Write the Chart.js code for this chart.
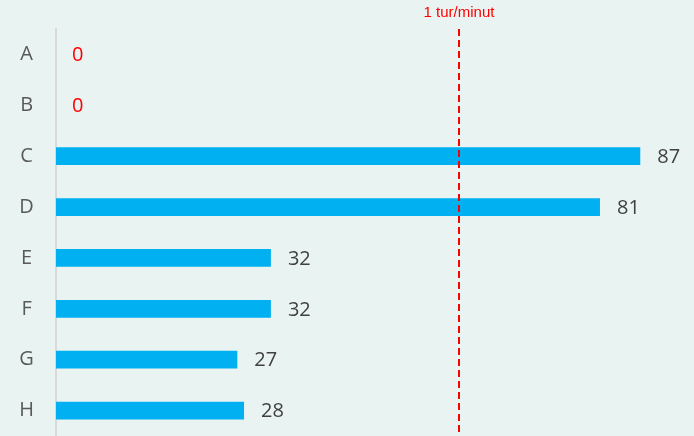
<!DOCTYPE html>
<html>
<head>
<meta charset="utf-8">
<script src="https://cdn.jsdelivr.net/npm/chart.js@4"></script>
<style>
  html, body { margin: 0; padding: 0; background: #E9F4F2; }
  #wrap { width: 694px; height: 436px; position: relative; }
</style>
</head>
<body>
<div id="wrap"><canvas id="myChart"></canvas></div>
<script>
const categories = ['A', 'B', 'C', 'D', 'E', 'F', 'G', 'H'];
const values = [0, 0, 87, 81, 32, 32, 27, 28];
const refValue = 60;
const refLabel = '1 tur/minut';

// etiketler barın sonunda, sıfırlar kırmızı
const valueLabels = {
    id: 'valueLabels',
    afterDatasetsDraw(chart) {
        const ctx = chart.ctx;
        const meta = chart.getDatasetMeta(0);
        ctx.save();
        ctx.font = '20px "Open Sans"';
        ctx.textBaseline = 'middle';
        ctx.textAlign = 'left';
        meta.data.forEach((bar, i) => {
            const v = values[i];
            ctx.fillStyle = v === 0 ? '#FF0000' : '#404040';
            ctx.fillText(String(v), bar.x + (v === 0 ? 16 : 17), bar.y + 1);
        });
        ctx.restore();
    }
};

// kesikli referans çizgisi
const refLine = {
    id: 'refLine',
    afterDatasetsDraw(chart) {
        const ctx = chart.ctx;
        const x = Math.round(chart.scales.x.getPixelForValue(refValue));
        const area = chart.chartArea;
        ctx.save();
        ctx.strokeStyle = '#FF0000';
        ctx.lineWidth = 2;
        ctx.setLineDash([7, 4]);
        ctx.beginPath();
        ctx.moveTo(x, area.top);
        ctx.lineTo(x, chart.height);
        ctx.stroke();
        ctx.setLineDash([]);
        ctx.fillStyle = '#FF0000';
        ctx.font = '15px "Liberation Sans"';
        ctx.textAlign = 'center';
        ctx.textBaseline = 'middle';
        ctx.fillText(refLabel, x, 13);
        ctx.restore();
    }
};

const ctx = document.getElementById('myChart').getContext('2d');
new Chart(ctx, {
    type: 'bar',
    data: {
        labels: categories,
        datasets: [{
            data: values,
            backgroundColor: '#00B0F0',
            borderWidth: 0,
            barPercentage: 0.35,
            categoryPercentage: 1
        }]
    },
    options: {
        indexAxis: 'y',
        responsive: true,
        maintainAspectRatio: false,
        animation: false,
        layout: { padding: { top: 29, right: 0, bottom: 0, left: 0 } },
        plugins: {
            legend: { display: false },
            tooltip: { enabled: false }
        },
        scales: {
            x: {
                display: false,
                min: 0,
                max: 95
            },
            y: {
                afterFit(scale) {
                    scale.width = 56;
                    scale.paddingTop = 0;
                    scale.paddingBottom = 0;
                },
                grid: { display: false, drawTicks: false },
                border: { color: '#D9D9D9', width: 2 },
                ticks: {
                    crossAlign: 'center',
                    padding: 22,
                    color: '#595959',
                    font: { family: 'Open Sans', size: 20 }
                }
            }
        }
    },
    plugins: [valueLabels, refLine]
});
</script>
</body>
</html>
